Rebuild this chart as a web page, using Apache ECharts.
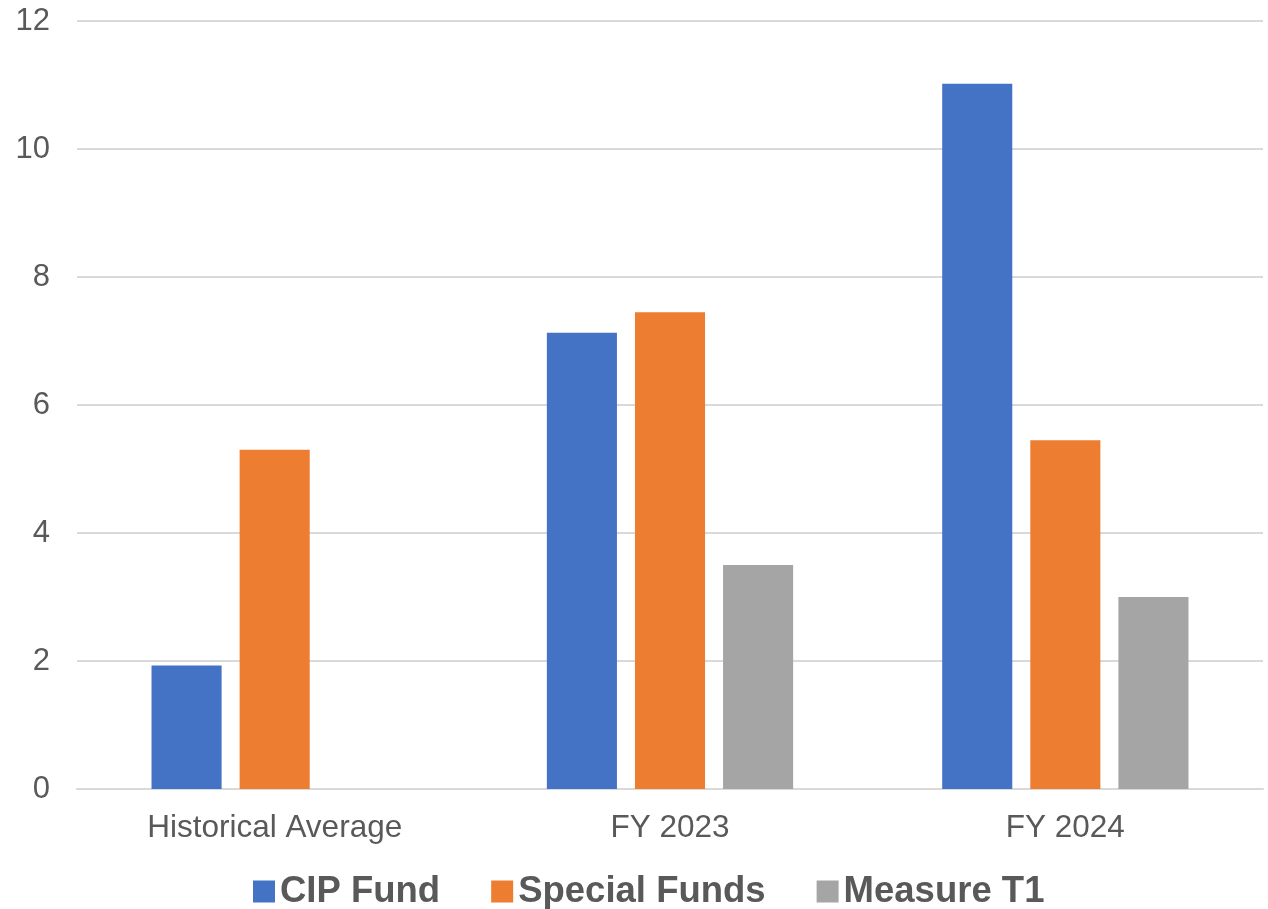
<!DOCTYPE html>
<html>
<head>
<meta charset="utf-8">
<script src="https://cdn.jsdelivr.net/npm/echarts@6/dist/echarts.min.js"></script>
<style>html,body{margin:0;padding:0;background:#fff;}#c{width:1268px;height:909px;}</style>
</head>
<body>
<div id="c"></div>
<script>
const categories = ['Historical Average', 'FY 2023', 'FY 2024'];
const cipFund = [1.93, 7.13, 11.02];
const specialFunds = [5.3, 7.45, 5.45];
const measureT1 = [null, 3.5, 3.0];
const yTicks = [0, 2, 4, 6, 8, 10, 12];

const chart = echarts.init(document.getElementById('c'));
const font = 'Liberation Sans, Arial, sans-serif';
chart.setOption({
  animation: false,
  color: ['#4472C4', '#ED7D31', '#A5A5A5'],
  grid: { left: 77, right: 5, top: 21, bottom: 120, containLabel: false },
  legend: {
    left: 248, top: 868,
    itemWidth: 22, itemHeight: 22, itemGap: 51, icon: 'rect',
    textStyle: { fontFamily: font, fontSize: 36.5, fontWeight: 'bold', color: '#595959' },
    data: ['CIP Fund', 'Special Funds', 'Measure T1']
  },
  xAxis: {
    type: 'category', data: categories,
    axisLine: { lineStyle: { color: '#d9d9d9', width: 2 } },
    axisTick: { show: false },
    axisLabel: { fontFamily: font, fontSize: 31.5, color: '#595959', margin: 23 }
  },
  yAxis: {
    type: 'value', min: yTicks[0], max: yTicks[yTicks.length - 1], interval: 2,
    axisLine: { show: false }, axisTick: { show: false },
    splitLine: { lineStyle: { color: '#d9d9d9', width: 2 } },
    axisLabel: { fontFamily: font, fontSize: 31, color: '#595959', margin: 27 }
  },
  series: [
    { name: 'CIP Fund', type: 'bar', data: cipFund, barGap: '25.7%', barCategoryGap: '37.7%' },
    { name: 'Special Funds', type: 'bar', data: specialFunds },
    { name: 'Measure T1', type: 'bar', data: measureT1 }
  ]
});
</script>
</body>
</html>
